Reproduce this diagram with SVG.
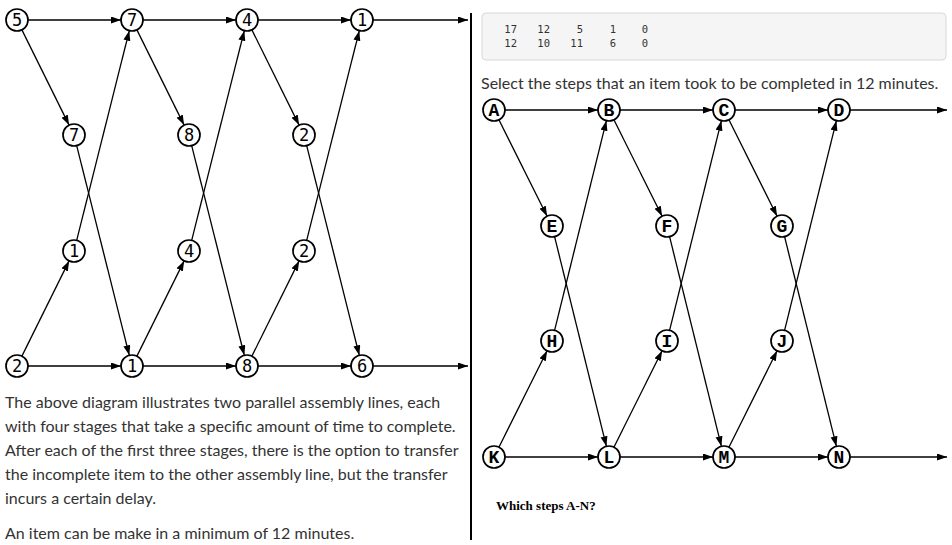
<svg xmlns="http://www.w3.org/2000/svg" width="952" height="545" viewBox="0 0 952 545">
<style>
.n circle{fill:#fff;stroke:#000;stroke-width:1.7}
.l text{font-family:"DejaVu Sans Mono","Liberation Mono",monospace;font-size:17px;text-anchor:middle;fill:#000}
.r text{font-family:"Liberation Mono","Courier New",monospace;font-weight:bold;font-size:18px;text-anchor:middle;fill:#000}
.e line{stroke:#000;stroke-width:1.3;marker-end:url(#ah)}
.p{font-family:Lato,"Open Sans",sans-serif;font-size:16px;fill:#333}
.m{font-family:"DejaVu Sans Mono","Liberation Mono",monospace;font-size:10.5px;fill:#333;text-anchor:end}
</style>
<defs>
<marker id="ah" markerUnits="userSpaceOnUse" markerWidth="11" markerHeight="8" refX="10" refY="3.5" orient="auto">
<path d="M0,0 L10,3.5 L0,7 z" fill="#000"/>
</marker>
</defs>
<rect width="952" height="545" fill="#fff"/>
<line x1="471" y1="13" x2="471" y2="540" stroke="#000" stroke-width="2"/>

<g id="connectors-left" class="e">
<line x1="28" y1="20" x2="121" y2="20"/>
<line x1="143" y1="20" x2="236" y2="20"/>
<line x1="258" y1="20" x2="351" y2="20"/>
<line x1="373" y1="20" x2="468" y2="20"/>
<line x1="28" y1="366" x2="121" y2="366"/>
<line x1="143" y1="366" x2="236" y2="366"/>
<line x1="258" y1="366" x2="351" y2="366"/>
<line x1="373" y1="366" x2="468" y2="366"/>
<line x1="21.9" y1="29.9" x2="69.1" y2="125.1"/>
<line x1="136.9" y1="29.9" x2="184.1" y2="125.1"/>
<line x1="251.9" y1="29.9" x2="299.1" y2="125.1"/>
<line x1="76.7" y1="145.7" x2="129.3" y2="355.3"/>
<line x1="191.7" y1="145.7" x2="244.3" y2="355.3"/>
<line x1="306.7" y1="145.7" x2="359.3" y2="355.3"/>
<line x1="21.9" y1="356.1" x2="69.1" y2="260.9"/>
<line x1="136.9" y1="356.1" x2="184.1" y2="260.9"/>
<line x1="251.9" y1="356.1" x2="299.1" y2="260.9"/>
<line x1="76.7" y1="240.3" x2="129.3" y2="30.7"/>
<line x1="191.7" y1="240.3" x2="244.3" y2="30.7"/>
<line x1="306.7" y1="240.3" x2="359.3" y2="30.7"/>
</g>

<g class="n l">
<g id="L-top1"><circle cx="17" cy="20" r="11"/><text x="17" y="26">5</text></g>
<g id="L-top2"><circle cx="132" cy="20" r="11"/><text x="132" y="26">7</text></g>
<g id="L-top3"><circle cx="247" cy="20" r="11"/><text x="247" y="26">4</text></g>
<g id="L-top4"><circle cx="362" cy="20" r="11"/><text x="362" y="26">1</text></g>
<g id="L-um1"><circle cx="74" cy="135" r="11"/><text x="74" y="141">7</text></g>
<g id="L-um2"><circle cx="189" cy="135" r="11"/><text x="189" y="141">8</text></g>
<g id="L-um3"><circle cx="304" cy="135" r="11"/><text x="304" y="141">2</text></g>
<g id="L-lm1"><circle cx="74" cy="251" r="11"/><text x="74" y="257">1</text></g>
<g id="L-lm2"><circle cx="189" cy="251" r="11"/><text x="189" y="257">4</text></g>
<g id="L-lm3"><circle cx="304" cy="251" r="11"/><text x="304" y="257">2</text></g>
<g id="L-bot1"><circle cx="17" cy="366" r="11"/><text x="17" y="372">2</text></g>
<g id="L-bot2"><circle cx="132" cy="366" r="11"/><text x="132" y="372">1</text></g>
<g id="L-bot3"><circle cx="247" cy="366" r="11"/><text x="247" y="372">8</text></g>
<g id="L-bot4"><circle cx="362" cy="366" r="11"/><text x="362" y="372">6</text></g>
</g>

<g id="description" class="p">
<text x="5" y="408">The above diagram illustrates two parallel assembly lines, each</text>
<text x="5" y="432">with four stages that take a specific amount of time to complete.</text>
<text x="5" y="456">After each of the first three stages, there is the option to transfer</text>
<text x="5" y="480">the incomplete item to the other assembly line, but the transfer</text>
<text x="5" y="504">incurs a certain delay.</text>
<text x="5" y="539">An item can be make in a minimum of 12 minutes.</text>
</g>

<g id="code-box">
<rect x="482" y="13" width="464" height="47" rx="4" fill="#f5f5f5" stroke="#d8d8d8"/>
<text class="m" x="517" y="33">17</text><text class="m" x="550" y="33">12</text><text class="m" x="583" y="33">5</text><text class="m" x="616" y="33">1</text><text class="m" x="648" y="33">0</text>
<text class="m" x="517" y="47">12</text><text class="m" x="550" y="47">10</text><text class="m" x="583" y="47">11</text><text class="m" x="616" y="47">6</text><text class="m" x="648" y="47">0</text>
</g>

<text class="p" x="481" y="89">Select the steps that an item took to be completed in 12 minutes.</text>

<g id="connectors-right" class="e">
<line x1="505" y1="110" x2="598" y2="110"/>
<line x1="620" y1="110" x2="713" y2="110"/>
<line x1="735" y1="110" x2="828" y2="110"/>
<line x1="850" y1="110" x2="947" y2="110"/>
<line x1="505" y1="457" x2="598" y2="457"/>
<line x1="620" y1="457" x2="713" y2="457"/>
<line x1="735" y1="457" x2="828" y2="457"/>
<line x1="850" y1="457" x2="947" y2="457"/>
<line x1="498.9" y1="119.8" x2="547.1" y2="216.2"/>
<line x1="613.9" y1="119.8" x2="662.1" y2="216.2"/>
<line x1="728.9" y1="119.8" x2="777.1" y2="216.2"/>
<line x1="554.6" y1="236.7" x2="606.4" y2="446.3"/>
<line x1="669.6" y1="236.7" x2="721.4" y2="446.3"/>
<line x1="784.6" y1="236.7" x2="836.4" y2="446.3"/>
<line x1="498.9" y1="447.2" x2="547.1" y2="350.8"/>
<line x1="613.9" y1="447.2" x2="662.1" y2="350.8"/>
<line x1="728.9" y1="447.2" x2="777.1" y2="350.8"/>
<line x1="554.6" y1="330.3" x2="606.4" y2="120.7"/>
<line x1="669.6" y1="330.3" x2="721.4" y2="120.7"/>
<line x1="784.6" y1="330.3" x2="836.4" y2="120.7"/>
</g>

<g class="n r">
<g id="A"><circle cx="494" cy="110" r="11"/><text x="494" y="116">A</text></g>
<g id="B"><circle cx="609" cy="110" r="11"/><text x="609" y="116">B</text></g>
<g id="C"><circle cx="724" cy="110" r="11"/><text x="724" y="116">C</text></g>
<g id="D"><circle cx="839" cy="110" r="11"/><text x="839" y="116">D</text></g>
<g id="E"><circle cx="552" cy="226" r="11"/><text x="552" y="232">E</text></g>
<g id="F"><circle cx="667" cy="226" r="11"/><text x="667" y="232">F</text></g>
<g id="G"><circle cx="782" cy="226" r="11"/><text x="782" y="232">G</text></g>
<g id="H"><circle cx="552" cy="341" r="11"/><text x="552" y="347">H</text></g>
<g id="I"><circle cx="667" cy="341" r="11"/><text x="667" y="347">I</text></g>
<g id="J"><circle cx="782" cy="341" r="11"/><text x="782" y="347">J</text></g>
<g id="K"><circle cx="494" cy="457" r="11"/><text x="494" y="463">K</text></g>
<g id="L"><circle cx="609" cy="457" r="11"/><text x="609" y="463">L</text></g>
<g id="M"><circle cx="724" cy="457" r="11"/><text x="724" y="463">M</text></g>
<g id="N"><circle cx="839" cy="457" r="11"/><text x="839" y="463">N</text></g>
</g>

<text x="496" y="510" font-family="'Liberation Serif','Times New Roman',serif" font-weight="bold" font-size="13" fill="#000">Which steps A-N?</text>
</svg>
